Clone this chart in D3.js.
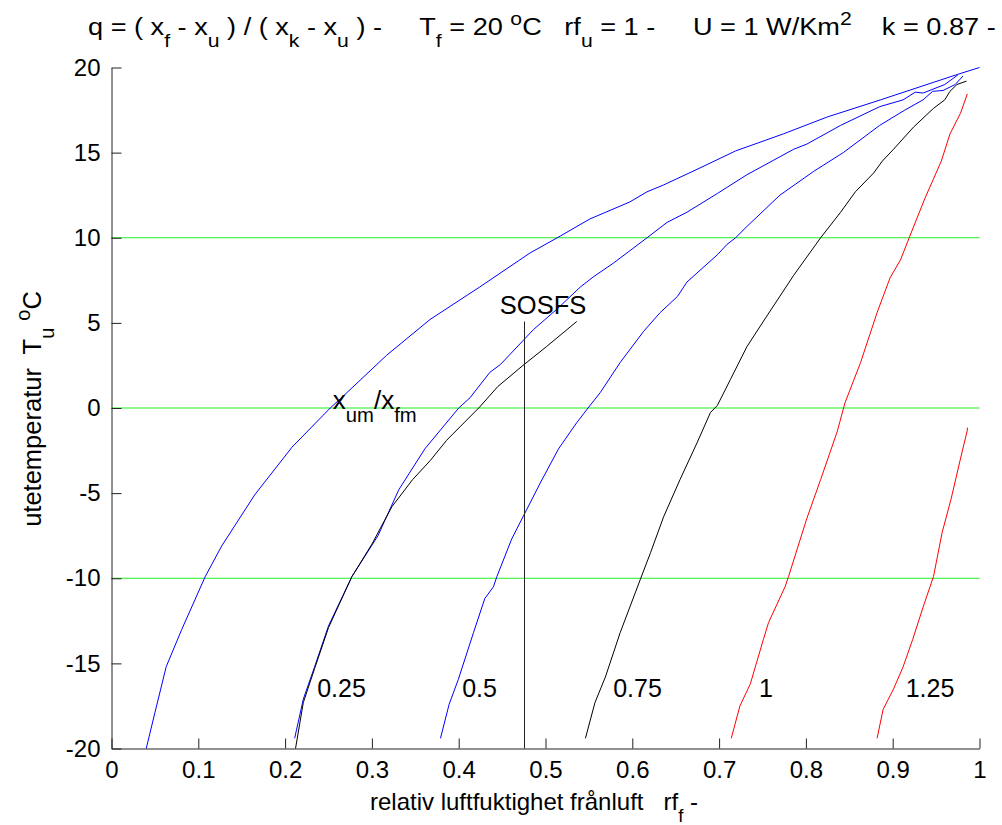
<!DOCTYPE html>
<html><head><meta charset="utf-8">
<script src="https://cdn.jsdelivr.net/npm/d3@7"></script>
<style>
body{margin:0;background:#fff}
svg{display:block}
text{font-family:"Liberation Sans",Arial,Helvetica,sans-serif;white-space:pre}
</style>
</head><body>
<svg id="c" width="1002" height="825"></svg>
<script>
// ---- data (rf_f, T_u) ----
const curveQ0 = [[0.040,-20],[0.050,-17.9],[0.063,-15.2],[0.081,-13.0],[0.108,-9.9],[0.127,-8.1],[0.165,-5.1],[0.208,-2.3],[0.252,0.0],[0.267,0.7],[0.317,3.1],[0.367,5.2],[0.424,7.1],[0.482,9.1],[0.517,10.1],[0.551,11.1],[0.597,12.1],[0.617,12.7],[0.636,13.1],[0.678,14.1],[0.719,15.1],[0.774,16.1],[0.825,17.1],[0.886,18.1],[0.975,19.6],[1.0,20.0]];
const curveQ025 = [[0.211,-19.4],[0.221,-17.1],[0.234,-15.2],[0.250,-12.8],[0.277,-9.9],[0.307,-7.5],[0.331,-4.8],[0.361,-2.4],[0.400,0.0],[0.413,0.6],[0.436,2.1],[0.448,2.55],[0.486,4.6],[0.513,5.8],[0.540,7.1],[0.555,7.7],[0.578,8.5],[0.617,10.0],[0.640,10.9],[0.663,11.5],[0.698,12.6],[0.732,13.7],[0.786,15.2],[0.801,15.5],[0.840,16.6],[0.885,17.7],[0.912,18.1],[0.926,18.55],[0.935,18.5],[0.960,19.0],[0.975,19.56]];
const curveXum = [[0.212,-20],[0.221,-17.3],[0.234,-15.3],[0.250,-12.9],[0.277,-9.9],[0.300,-8.0],[0.323,-5.8],[0.347,-4.2],[0.367,-3.1],[0.386,-1.9],[0.424,0.05],[0.445,1.26],[0.474,2.5],[0.501,3.6],[0.536,5.08]];
const curveQ05 = [[0.379,-19.4],[0.389,-17.4],[0.3995,-15.95],[0.417,-13.2],[0.430,-11.2],[0.440,-10.5],[0.444,-9.9],[0.461,-7.7],[0.474,-6.4],[0.494,-4.4],[0.515,-2.4],[0.536,-0.86],[0.549,0.0],[0.563,0.9],[0.586,2.67],[0.613,4.5],[0.632,5.6],[0.652,6.55],[0.663,7.4],[0.698,9.0],[0.709,9.6],[0.719,10.0],[0.732,10.66],[0.770,12.5],[0.809,13.9],[0.843,15.0],[0.885,16.6],[0.914,17.5],[0.935,18.1],[0.946,18.6],[0.958,18.65],[0.972,19.0],[0.981,19.5]];
const curveQ075 = [[0.546,-19.4],[0.557,-17.3],[0.569,-15.8],[0.586,-13.2],[0.609,-10.1],[0.621,-8.5],[0.636,-6.4],[0.655,-4.2],[0.675,-2.0],[0.690,-0.27],[0.698,0.15],[0.713,1.67],[0.732,3.6],[0.755,5.4],[0.786,7.8],[0.817,10.0],[0.840,11.5],[0.857,12.7],[0.878,13.8],[0.888,14.5],[0.901,15.2],[0.924,16.5],[0.947,17.6],[0.960,18.1],[0.966,18.6],[0.974,19.0],[0.985,19.2]];
const curveQ1 = [[0.714,-19.4],[0.724,-17.5],[0.736,-16.2],[0.751,-13.6],[0.757,-12.6],[0.776,-10.5],[0.780,-9.9],[0.801,-6.5],[0.817,-4.2],[0.836,-1.4],[0.845,0.3],[0.863,2.67],[0.882,5.6],[0.897,7.65],[0.909,8.7],[0.919,10.0],[0.937,12.3],[0.956,14.5],[0.966,16.1],[0.978,17.3],[0.986,18.45]];
const curveQ125 = [[0.882,-19.4],[0.889,-17.7],[0.901,-16.5],[0.912,-15.2],[0.923,-13.6],[0.935,-11.7],[0.943,-10.5],[0.947,-9.9],[0.957,-7.3],[0.967,-5.4],[0.978,-3.0],[0.986,-1.3],[0.986,-1.15]];

const curveLabels = ["0.25","0.5","0.75","1","1.25"];
const curveLabelRf = [0.237,0.404,0.578,0.746,0.915];
const curveLabelT = -17.0;

const xTicks = [0,0.1,0.2,0.3,0.4,0.5,0.6,0.7,0.8,0.9,1];
const yTicks = [-20,-15,-10,-5,0,5,10,15,20];
const gridT = [-10,0,10];
const sosfsRf = 0.475;
const sosfsTop = 5.08;

// ---- drawing ----
const svg = d3.select("#c");
const W = 1002, H = 825;
svg.append("rect").attr("width",W).attr("height",H).attr("fill","#fff");

const x = d3.scaleLinear().domain([0,1]).range([111.5,979.5]);
const y = d3.scaleLinear().domain([-20,20]).range([748.5,67.5]);

// green horizontal lines
svg.append("g").selectAll("line").data(gridT).join("line")
  .attr("x1",x(0)).attr("x2",x(1))
  .attr("y1",d=>y(d)).attr("y2",d=>y(d))
  .attr("stroke","#22ee22").attr("stroke-width",1.2);

const line = d3.line().x(d=>x(d[0])).y(d=>y(d[1]));
const series = [
  {d:curveQ0,c:"#0000ff"},
  {d:curveQ025,c:"#0000ff"},
  {d:curveXum,c:"#000000"},
  {d:curveQ05,c:"#0000ff"},
  {d:curveQ075,c:"#000000"},
  {d:curveQ1,c:"#ff0000"},
  {d:curveQ125,c:"#ff0000"}
];
svg.append("g").selectAll("path").data(series).join("path")
  .attr("d",s=>line(s.d)).attr("fill","none")
  .attr("stroke",s=>s.c).attr("stroke-width",1);

// SOSFS vertical line
svg.append("line")
  .attr("x1",Math.round(x(sosfsRf))+0.5).attr("x2",Math.round(x(sosfsRf))+0.5)
  .attr("y1",y(sosfsTop)).attr("y2",y(-20))
  .attr("stroke","#222").attr("stroke-width",1);

// axes
const fs = 24, fl = 25;
const xAxis = d3.axisBottom(x).tickValues(xTicks).tickSize(-10).tickSizeOuter(0).tickPadding(12)
  .tickFormat(d=>String(d));
const gx = svg.append("g").attr("transform",`translate(0,${y(-20)})`).call(xAxis);
const yAxis = d3.axisLeft(y).tickValues(yTicks).tickSize(-10).tickSizeOuter(0).tickPadding(11)
  .tickFormat(d=>String(d));
const gy = svg.append("g").attr("transform",`translate(${x(0)},0)`).call(yAxis);
[gx,gy].forEach(g=>{
  g.selectAll("path,line").attr("stroke","#222");
  g.selectAll("text").attr("font-size",fs).attr("fill","#000")
    .attr("font-family","'Liberation Sans',Arial,sans-serif");
});

// curve labels
svg.append("g").selectAll("text").data(curveLabels).join("text")
  .attr("x",(d,i)=>x(curveLabelRf[i])).attr("y",y(curveLabelT))
  .attr("font-size",fl).text(d=>d);

// SOSFS label
svg.append("text").attr("x",x(sosfsRf)-24).attr("y",y(sosfsTop)-8)
  .attr("font-size",25.5).text("SOSFS");

// helper for rich text
function rich(sel, parts, size){
  let shift = 0;
  parts.forEach(p=>{
    const t = sel.append("tspan").text(p[0]);
    let target = 0, s = size;
    if(p[1]==="sub"){target = size*0.5; s=size*0.78;}
    if(p[1]==="sup"){target = -size*0.42; s=size*0.78;}
    t.attr("font-size",s).attr("dy",target-shift);
    shift = target;
  });
}

// x_um / x_fm label
const lab = svg.append("text").attr("x",x(0.255)).attr("y",y(0)+1);
rich(lab,[["x"],["um","sub"],["/x"],["fm","sub"]],26);

// title (fit to its width in the picture)
const titleParts = [["q = ( x"],["f","sub"],[" - x"],["u","sub"],[" ) / ( x"],["k","sub"],[" - x"],["u","sub"],[" ) -     T"],["f","sub"],[" = 20 "],["o","sup"],["C   rf"],["u","sub"],[" = 1 -     U = 1 W/Km"],["2","sup"],["    k = 0.87 -"]];
const tg = svg.append("g");
const tt = tg.append("text").attr("x",0).attr("y",0);
rich(tt,titleParts,24);
const tw = tt.node().getBBox().width;
tg.attr("transform",`translate(88,35) scale(${(996-88)/tw},1)`);

// x label
const xl = svg.append("text").attr("x",370).attr("y",810);
rich(xl,[["relativ luftfuktighet frånluft   rf"],["f","sub"],[" -"]],24);

// y label
const yl = svg.append("text").attr("text-anchor","middle")
  .attr("transform","translate(41,409) rotate(-90)");
rich(yl,[["utetemperatur  T"],["u","sub"],[" "],["o","sup"],["C"]],25.5);
</script>
</body></html>
